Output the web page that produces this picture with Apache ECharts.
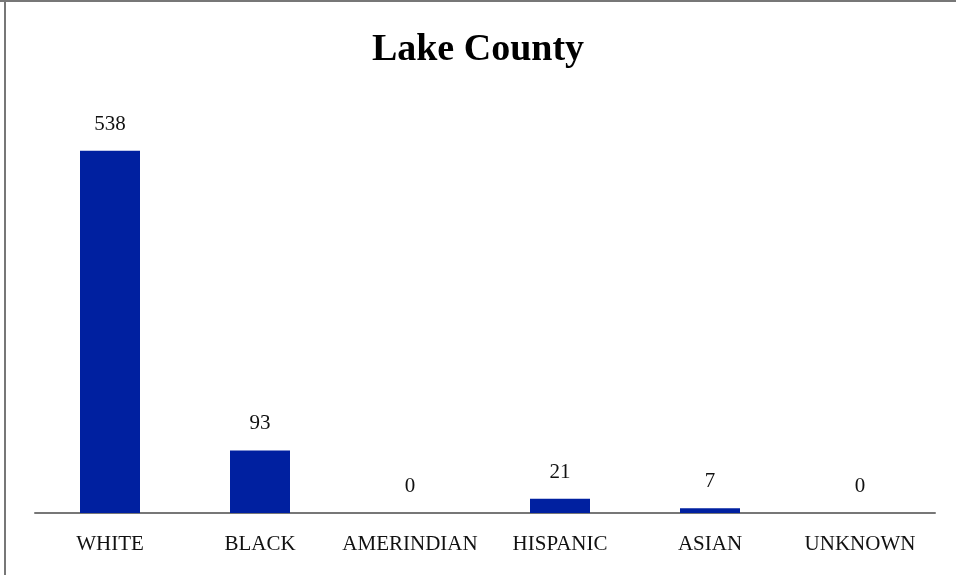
<!DOCTYPE html>
<html>
<head>
<meta charset="utf-8">
<script src="https://cdn.jsdelivr.net/npm/echarts@6/dist/echarts.min.js"></script>
<style>
html,body{margin:0;padding:0;background:#fff;}
#c{width:956px;height:575px;}
</style>
</head>
<body>
<div id="c"></div>
<script>
const categories = ['WHITE', 'BLACK', 'AMERINDIAN', 'HISPANIC', 'ASIAN', 'UNKNOWN'];
const values = [538, 93, 0, 21, 7, 0];
const titleText = 'Lake County';

const chart = echarts.init(document.getElementById('c'));
const serif = '"Liberation Serif", "DejaVu Serif", serif';
chart.setOption({
  backgroundColor: '#fff',
  animation: false,
  title: {
    text: titleText,
    left: 'center',
    top: 26,
    textStyle: { fontFamily: serif, fontSize: 38, fontWeight: 'bold', color: '#000' }
  },
  graphic: [
    { type: 'line', shape: { x1: 0, y1: 1, x2: 956, y2: 1 }, style: { stroke: '#777', lineWidth: 2 } },
    { type: 'line', shape: { x1: 5, y1: 0, x2: 5, y2: 575 }, style: { stroke: '#777', lineWidth: 2 } }
  ],
  grid: { left: 35, right: 21, top: 109, bottom: 62 },
  xAxis: {
    type: 'category',
    data: categories,
    axisLine: { lineStyle: { color: '#777', width: 2 } },
    axisTick: { show: false },
    axisLabel: { fontFamily: serif, fontSize: 21, color: '#111', margin: 21, interval: 0 }
  },
  yAxis: {
    type: 'value',
    min: 0,
    max: 600,
    show: false,
    splitLine: { show: false }
  },
  series: [{
    type: 'bar',
    data: values,
    barWidth: '40%',
    itemStyle: { color: '#0020A0' },
    label: {
      show: true,
      position: 'top',
      distance: 16,
      fontFamily: serif,
      fontSize: 21,
      color: '#111'
    }
  }]
});
</script>
</body>
</html>
